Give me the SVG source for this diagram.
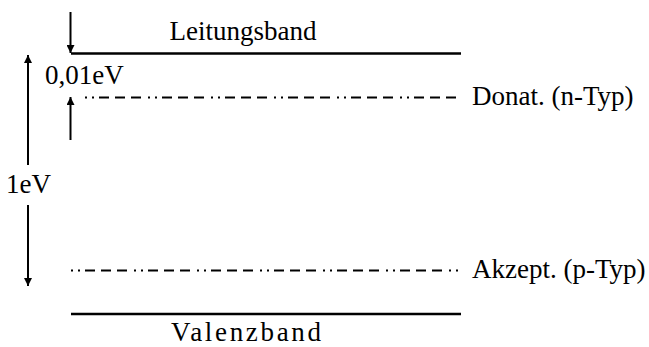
<svg xmlns="http://www.w3.org/2000/svg" width="649" height="347" viewBox="0 0 649 347">
<defs>
<marker id="ah" viewBox="0 0 10 10" refX="10" refY="5" markerWidth="12" markerHeight="8" markerUnits="userSpaceOnUse" orient="auto">
<path d="M0,0 L10,5 L0,10 z" fill="#000"/>
</marker>
<style>
text{font-family:"Liberation Serif","Times New Roman",serif;font-size:27px;fill:#000}
.band{stroke:#000;stroke-width:2.5;fill:none}
.lvl{stroke:#000;stroke-width:2;fill:none;stroke-dasharray:2 5 2 5 10 6 10 6 10 7}
.arr{stroke:#000;stroke-width:2;fill:none;marker-end:url(#ah)}
</style>
</defs>
<rect width="649" height="347" fill="#fff"/>
<g id="leitungsband">
<line class="band" x1="71" y1="53.5" x2="461" y2="53.5"/>
<text x="243" y="40" text-anchor="middle">Leitungsband</text>
</g>
<g id="donator">
<line class="lvl" x1="78" y1="97.5" x2="461" y2="97.5" stroke-dashoffset="-7"/>
<text x="472" y="105">Donat. (n-Typ)</text>
</g>
<g id="akzeptor">
<line class="lvl" x1="71" y1="270.5" x2="461" y2="270.5"/>
<text x="472" y="278">Akzept. (p-Typ)</text>
</g>
<g id="valenzband">
<line class="band" x1="71" y1="314" x2="461" y2="314"/>
<text x="171" y="341" font-size="29" textLength="150" lengthAdjust="spacing">Valenzband</text>
</g>
<g id="label-001">
<text x="45" y="84">0,01eV</text>
</g>
<g id="label-1ev">
<text x="6" y="193">1eV</text>
</g>
<g id="connectors">
<line class="arr" x1="70.5" y1="12" x2="70.5" y2="53"/>
<line class="arr" x1="70.5" y1="140" x2="70.5" y2="97"/>
<line class="arr" x1="28" y1="165" x2="28" y2="55"/>
<line class="arr" x1="28" y1="205" x2="28" y2="286"/>
</g>
</svg>
